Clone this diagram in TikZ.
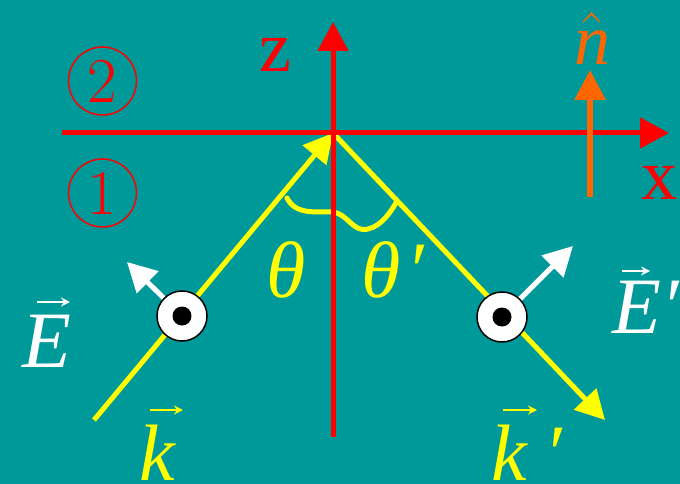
\RequirePackage{fix-cm}
\documentclass[tikz,border=0pt]{standalone}
\usepackage{fontspec}
\setmainfont{Liberation Serif}
\newfontfamily\lmfont{Latin Modern Roman}
\usetikzlibrary{arrows.meta}
\definecolor{bg}{HTML}{009999}
\definecolor{axred}{HTML}{FF0000}
\definecolor{rayyel}{HTML}{FFFF00}
\definecolor{norange}{HTML}{FF6600}
\newcommand\hugef{\fontsize{80}{84}\selectfont}
\newcommand\bigf{\fontsize{72}{76}\selectfont}
\newcommand\midf{\lmfont\fontsize{64}{68}\selectfont}
\begin{document}
\begin{tikzpicture}[x=1pt,y=-1pt,
  redax/.style={draw=axred,line width=5pt,-{Triangle[length=29pt,width=30pt]}},
  ray/.style={draw=rayyel,line width=5pt},
  rayhead/.style={ray,-{Triangle[length=29pt,width=30pt]}},
  narrow/.style={draw=norange,line width=6pt,-{Triangle[length=30pt,width=30pt]}},
  warrow/.style={draw=white,line width=5pt,-{Triangle[length=29pt,width=30pt]}},
  vecar/.style={line width=2pt,-{Stealth[length=9pt,width=9pt,inset=3pt]}},
  dotcirc/.style={circle,draw=black,line width=1.5pt,fill=white,minimum size=50pt,inner sep=0pt},
  region/.style={circle,draw=axred,line width=1.5pt,minimum size=68pt,inner sep=0pt,text=axred,font=\midf},
  lbl/.style={inner sep=0pt,anchor=base}
]
\fill[bg] (0,0) rectangle (680,484);
\useasboundingbox (0,0) rectangle (680,484);

% coordinates
\coordinate (O) at (333,133);
\coordinate (xl) at (62,133);
\coordinate (xr) at (669,133);
\coordinate (zb) at (333,437);
\coordinate (zt) at (333,22);
\coordinate (kin) at (94,420);
\coordinate (kout) at (605,420);
\coordinate (nb) at (590,197);
\coordinate (nt) at (590,70);
\coordinate (c1) at (182,316);
\coordinate (c2) at (502,317);
\coordinate (e1) at (127,262);
\coordinate (e2) at (573,246);

% rays
\draw[rayhead] (kin) -- (O);
\draw[rayhead] (O) -- (kout);
% angle brace
\draw[ray,line cap=round] (287,198) .. controls (296,216) and (318,211) .. (333,212)
   .. controls (348,214) and (353,233) .. (368,229)
   .. controls (382,226) and (392,210) .. (397,201);

% axes
\draw[redax] (xl) -- (xr);
\draw[redax] (zb) -- (zt);

% normal
\draw[narrow] (nb) -- (nt);

% E arrows
\draw[warrow] (c1) -- (e1);
\draw[warrow] (c2) -- (e2);
\node[dotcirc] (d1) at (c1) {};
\node[dotcirc] (d2) at (c2) {};
\fill[black] (d1.center) circle (9.5);
\fill[black] (d2.center) circle (9.5);

% region labels
\node[region] (r2) at (102.5,81) {2};
\node[region] (r1) at (102.5,193) {1};

% axis labels
\node[lbl,text=axred,font=\bigf] (zl) at (275,72) {z};
\node[lbl,text=axred,font=\bigf] (xlbl) at (659,199) {x};
\node[lbl,text=norange,font=\bigf] (nl) at (592,65) {$\hat{\textit{n}}$};

% angles
\node[lbl,text=rayyel,font=\hugef] (th) at (286,297) {\textit{θ}};
\node[lbl,text=rayyel,font=\hugef] (thp) at (393,297) {\textit{θ\kern6pt′}};

% vectors
\node[lbl,text=white,font=\hugef] (E) at (47,367) {\textit{E}};
\node[lbl,text=white,font=\hugef] (Ep) at (646,333) {\textit{E′}};
\node[lbl,text=rayyel,font=\hugef] (k) at (158,480) {\textit{k}};
\node[lbl,text=rayyel,font=\hugef] (kp) at (527,480) {\textit{k\kern18pt′}};
\draw[vecar,white] (37,302) -- (70,302);
\draw[vecar,white] (622,271) -- (650,271);
\draw[vecar,rayyel] (150,410) -- (183,410);
\draw[vecar,rayyel] (503,410) -- (537,410);
\end{tikzpicture}
\end{document}
